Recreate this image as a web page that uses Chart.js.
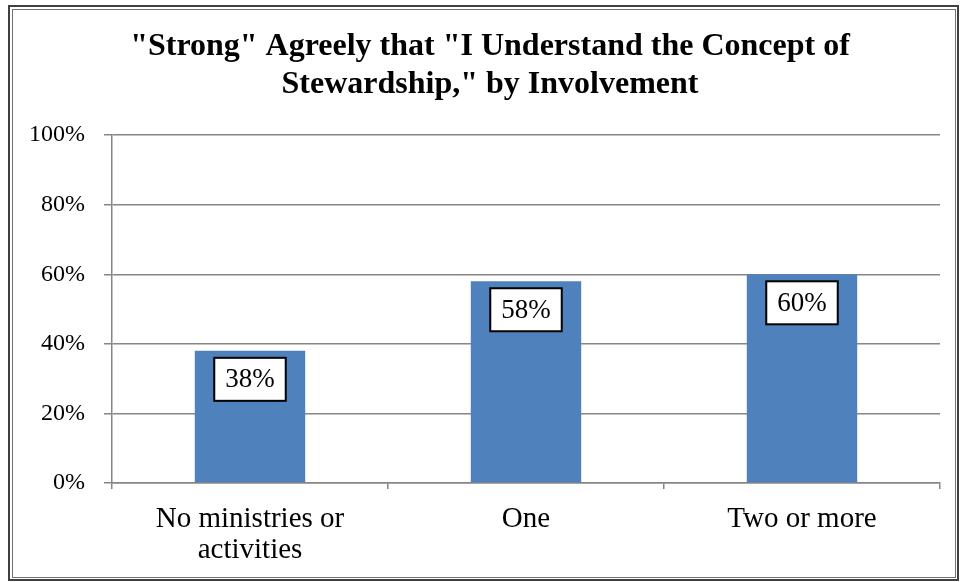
<!DOCTYPE html>
<html>
<head>
<meta charset="utf-8">
<script src="https://cdn.jsdelivr.net/npm/chart.js@4/dist/chart.umd.min.js"></script>
<style>
html,body{margin:0;padding:0;background:#fff;}
#wrap{width:961px;height:582px;position:relative;}
</style>
</head>
<body>
<div id="wrap"><canvas id="c" width="961" height="582"></canvas></div>
<script>
const titleLines = ['"Strong" Agreely that "I Understand the Concept of', 'Stewardship," by Involvement'];
const categories = [['No ministries or', 'activities'], 'One', 'Two or more'];
const values = [38, 58, 60];
const yTicks = [0, 20, 40, 60, 80, 100];

const SERIF = '"Liberation Serif", "Times New Roman", serif';
const GRID = '#868686';

const framePlugin = {
  id: 'frame',
  afterLayout(chart) {
    const t = chart.titleBlock;
    if (t) { t.left = 40; t.right = 940; t.width = 900; }
  },
  beforeDraw(chart) {
    const ctx = chart.ctx;
    ctx.save();
    ctx.fillStyle = '#fff';
    ctx.fillRect(0, 0, chart.width, chart.height);
    ctx.strokeStyle = '#404040';
    ctx.lineWidth = 2;
    ctx.strokeRect(9, 6, 949, 574);
    ctx.strokeStyle = '#707070';
    ctx.lineWidth = 1;
    ctx.strokeRect(12.5, 9.5, 943, 568);
    ctx.restore();
  }
};

const labelPlugin = {
  id: 'boxLabels',
  afterDatasetsDraw(chart) {
    const ctx = chart.ctx;
    const meta = chart.getDatasetMeta(0);
    ctx.save();
    ctx.font = '27px ' + SERIF;
    ctx.textAlign = 'center';
    ctx.textBaseline = 'middle';
    meta.data.forEach((bar, i) => {
      const txt = values[i] + '%';
      const w = ctx.measureText(txt).width + 22;
      const h = 43;
      const x = bar.x - w / 2;
      const y = bar.y + 7;
      ctx.fillStyle = '#fff';
      ctx.fillRect(x, y, w, h);
      ctx.strokeStyle = '#000';
      ctx.lineWidth = 2;
      ctx.strokeRect(x, y, w, h);
      ctx.fillStyle = '#000';
      ctx.fillText(txt, bar.x, y + h / 2 + 1);
    });
    ctx.restore();
  }
};

new Chart(document.getElementById('c'), {
  type: 'bar',
  data: {
    labels: categories,
    datasets: [{
      data: values,
      backgroundColor: '#4F81BD',
      borderWidth: 0,
      categoryPercentage: 0.4,
      barPercentage: 1.0
    }]
  },
  options: {
    responsive: false,
    animation: false,
    layout: { padding: { left: 0, right: 21, top: 0, bottom: 0 } },
    plugins: {
      legend: { display: false },
      tooltip: { enabled: false },
      title: {
        display: true,
        text: titleLines,
        color: '#000',
        font: { family: SERIF, size: 32, weight: 'bold', lineHeight: 1.19 },
        padding: { top: 28, bottom: 31 }
      }
    },
    scales: {
      y: {
        min: 0, max: 100,
        afterBuildTicks(scale) { scale.ticks = yTicks.map(v => ({ value: v })); },
        afterFit(scale) { scale.width = 112; },
        ticks: {
          color: '#000',
          font: { family: SERIF, size: 24 },
          padding: 19,
          callback: v => v + '%'
        },
        grid: { color: GRID, lineWidth: 1.5, tickLength: 8, drawTicks: true },
        border: { color: GRID, width: 1.5 }
      },
      x: {
        afterFit(scale) { scale.height = 99; },
        ticks: {
          color: '#000',
          font: { family: SERIF, size: 29, lineHeight: 1.07 },
          padding: 15,
          maxRotation: 0
        },
        grid: { color: GRID, lineWidth: 1.5, tickLength: 6, drawOnChartArea: false, drawTicks: true, offset: true },
        border: { color: GRID, width: 1.5 }
      }
    }
  },
  plugins: [framePlugin, labelPlugin]
});
</script>
</body>
</html>
